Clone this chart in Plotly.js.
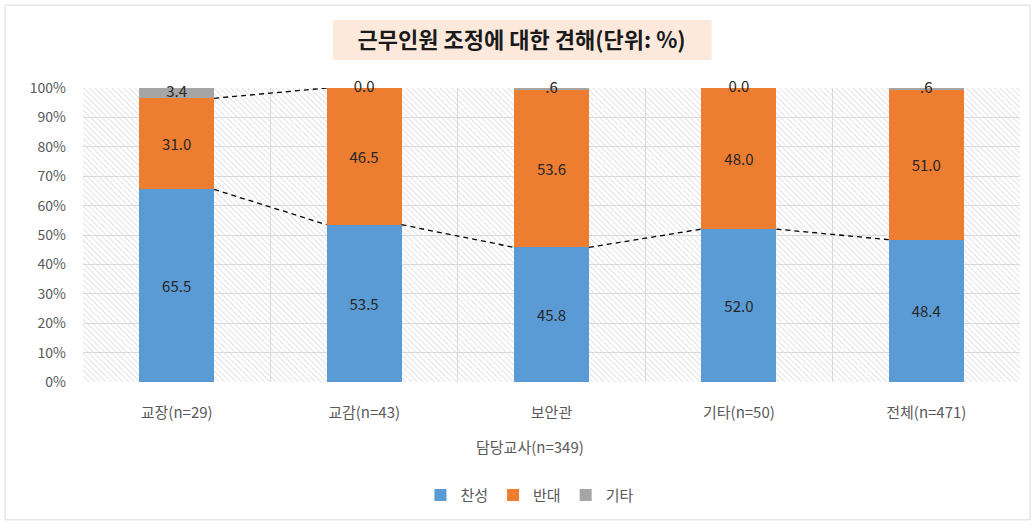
<!DOCTYPE html>
<html>
<head>
<meta charset="utf-8">
<script src="https://cdn.plot.ly/plotly-3.0.1.min.js"></script>
<style>html,body{margin:0;padding:0;background:#fff;}#chart{width:1035px;height:524px;}</style>
</head>
<body>
<div id="chart"></div>
<script>
// ---- data ----
const categories = ['교장(n=29)', '교감(n=43)', '보안관', '기타(n=50)', '전체(n=471)'];
const approve = [65.5, 53.5, 45.8, 52.0, 48.4];
const oppose = [31.0, 46.5, 53.6, 48.0, 51.0];
const other = [3.4, 0.0, 0.6, 0.0, 0.6];
const approveLabels = ['65.5', '53.5', '45.8', '52.0', '48.4'];
const opposeLabels = ['31.0', '46.5', '53.6', '48.0', '51.0'];
const otherLabels = ['3.4', '0.0', '.6', '0.0', '.6'];
const seriesNames = ['찬성', '반대', '기타'];
const yTickVals = [0, 10, 20, 30, 40, 50, 60, 70, 80, 90, 100];
const yTickText = ['0%', '10%', '20%', '30%', '40%', '50%', '60%', '70%', '80%', '90%', '100%'];
const chartTitle = '근무인원 조정에 대한 견해(단위: %)';
const groupLabel = '담당교사(n=349)';
// segments where the upper series line is visible (from bar i to bar i+1)
const opposeLineSegments = [0];

// ---- styling ----
const FONT = '"Noto Sans CJK KR", "Noto Sans", sans-serif';
const colors = ['#5b9bd5', '#ed7d31', '#a5a5a5'];
const BW = 0.4;
const xs = categories.map((_, i) => i);

const traces = [];
traces.push({
  type: 'bar', name: seriesNames[0], x: xs, y: approve, width: BW,
  marker: {color: colors[0]}, text: approveLabels, textposition: 'inside',
  insidetextanchor: 'middle', textangle: 0,
  textfont: {family: FONT, size: 15, color: '#262626'}, hoverinfo: 'skip'
});
traces.push({
  type: 'bar', name: seriesNames[1], x: xs, y: oppose, width: BW,
  marker: {color: colors[1]}, text: opposeLabels, textposition: 'inside',
  insidetextanchor: 'middle', textangle: 0,
  textfont: {family: FONT, size: 15, color: '#262626'}, hoverinfo: 'skip'
});
traces.push({
  type: 'bar', name: seriesNames[2], x: xs, y: other, width: BW,
  marker: {color: colors[2]}, textposition: 'none', hoverinfo: 'skip'
});
// labels for the small "기타" segments
const otherMid = xs.map(i => approve[i] + oppose[i] + other[i] / 2);
traces.push({
  type: 'scatter', mode: 'text', x: xs, y: otherMid, text: otherLabels,
  textposition: 'middle center', showlegend: false, hoverinfo: 'skip',
  cliponaxis: false,
  textfont: {family: FONT, size: 15, color: '#262626'}
});
// series lines
function seriesLine(vals, segs) {
  const lx = [], ly = [];
  segs.forEach(i => {
    lx.push(i + BW / 2, i + 1 - BW / 2, null);
    ly.push(vals[i], vals[i + 1], null);
  });
  return {type: 'scatter', mode: 'lines', x: lx, y: ly, showlegend: false,
    hoverinfo: 'skip', cliponaxis: false,
    line: {color: '#000', width: 1.3, dash: '5px,4px'}};
}
const approveCum = approve.slice();
const opposeCum = xs.map(i => approve[i] + oppose[i]);
traces.push(seriesLine(approveCum, [0, 1, 2, 3]));
traces.push(seriesLine(opposeCum, opposeLineSegments));

// hatch background image
const PW = 937, PH = 294;
const hatchSvg = `<svg xmlns="http://www.w3.org/2000/svg" width="${PW}" height="${PH}">` +
  `<defs><pattern id="h" patternUnits="userSpaceOnUse" width="4" height="4" patternTransform="rotate(-45)">` +
  `<line x1="0" y1="0" x2="0" y2="4" stroke="#d0d0d0" stroke-width="1.2"/></pattern></defs>` +
  `<rect width="${PW}" height="${PH}" fill="#ffffff"/><rect width="${PW}" height="${PH}" fill="url(#h)"/></svg>`;
const hatchUri = 'data:image/svg+xml;base64,' + btoa(hatchSvg);

const layout = {
  width: 1035, height: 524,
  margin: {l: 83, r: 15, t: 88, b: 142},
  paper_bgcolor: '#ffffff', plot_bgcolor: 'rgba(0,0,0,0)',
  barmode: 'stack',
  font: {family: FONT, color: '#595959'},
  title: {text: '<b>' + chartTitle + '</b>', x: 0.504, xref: 'container',
    y: 0.924, yref: 'container', xanchor: 'center', yanchor: 'middle',
    font: {family: FONT, size: 22, color: '#1a1a1a'}},
  xaxis: {
    range: [-0.5, 4.5], tickmode: 'array', tickvals: xs, ticktext: categories,
    showgrid: false, zeroline: false, showline: false, ticks: '',
    ticklabelstandoff: 20,
    tickfont: {family: FONT, size: 15, color: '#595959'},
    minor: {tick0: 0.5, dtick: 1, showgrid: true, gridcolor: '#d9d9d9', gridwidth: 1, ticks: ''},
    fixedrange: true
  },
  yaxis: {
    range: [0, 100], tickmode: 'array', tickvals: yTickVals, ticktext: yTickText,
    showgrid: true, gridcolor: '#d9d9d9', gridwidth: 1, zeroline: false,
    showline: false, ticks: '', ticklabelstandoff: 16,
    tickfont: {family: FONT, size: 14, color: '#595959'}, fixedrange: true
  },
  legend: {orientation: 'h', x: 0.477, xanchor: 'center', y: -0.385, yanchor: 'middle',
    font: {family: FONT, size: 15, color: '#595959'}, traceorder: 'normal',
    itemwidth: 30, tracegroupgap: 0},
  annotations: [{
    text: groupLabel, xref: 'paper', yref: 'paper', x: 0.477, y: -0.221,
    showarrow: false, xanchor: 'center', yanchor: 'middle',
    font: {family: FONT, size: 15, color: '#595959'}
  }],
  images: [{source: hatchUri, xref: 'paper', yref: 'paper', x: 0, y: 1,
    sizex: 1, sizey: 1, xanchor: 'left', yanchor: 'top', sizing: 'stretch', layer: 'below'}],
  shapes: [
    {type: 'rect', xref: 'paper', yref: 'paper', x0: 0.2668, x1: 0.671, y0: 1.095, y1: 1.231,
      fillcolor: '#fce9dc', line: {width: 0}, layer: 'below'},
    {type: 'rect', xref: 'paper', yref: 'paper', x0: -0.0832, x1: 1.0107, y0: -0.469, y1: 1.282,
      fillcolor: 'rgba(0,0,0,0)', line: {color: '#d9d9d9', width: 1}, layer: 'below'}
  ],
  showlegend: true
};

Plotly.newPlot('chart', traces, layout, {displayModeBar: false, staticPlot: true});
</script>
</body>
</html>
